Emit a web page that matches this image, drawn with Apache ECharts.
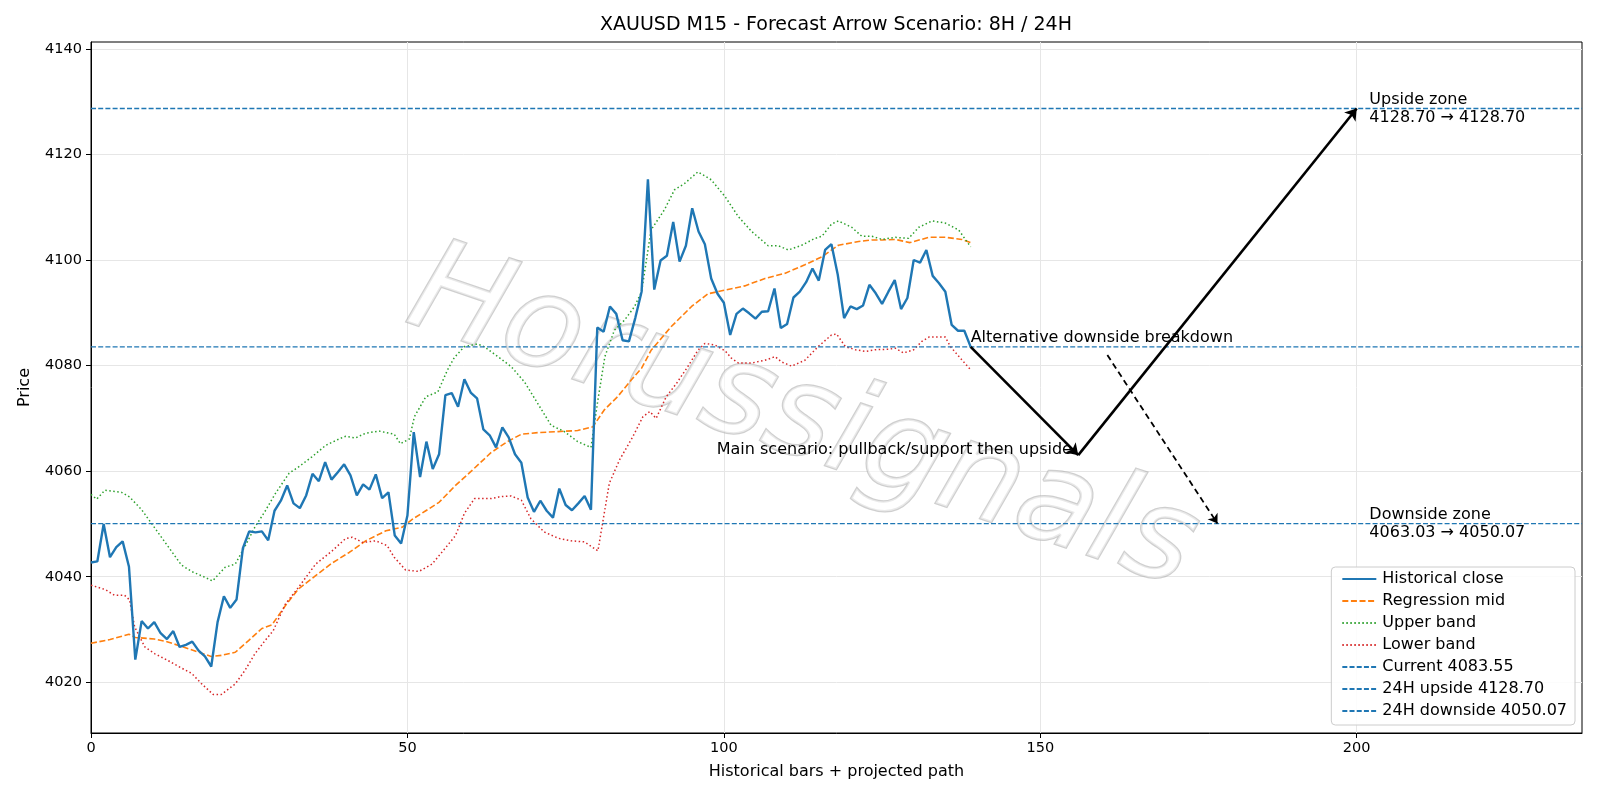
<!DOCTYPE html>
<html>
<head>
<meta charset="utf-8">
<title>XAUUSD M15 forecast</title>
<script src="https://cdn.jsdelivr.net/npm/echarts@6/dist/echarts.min.js"></script>
<style>
  html, body { margin: 0; padding: 0; background: #fff; }
  #chart { width: 1600px; height: 800px; }
</style>
</head>
<body>
<div id="chart"></div>
<script>
// historical M15 closes, one per bar (index = bar number)
const closeValues = [
  4042.7, 4042.9, 4050.0, 4043.7, 4045.6, 4046.7, 4041.9, 4024.3, 4031.6, 4030.2,
  4031.4, 4029.3, 4028.2, 4029.7, 4026.7, 4027.1, 4027.7, 4026.0, 4024.9, 4023.0,
  4031.4, 4036.3, 4034.1, 4035.7, 4045.4, 4048.6, 4048.4, 4048.6, 4046.9, 4052.5,
  4054.4, 4057.3, 4053.9, 4053.0, 4055.4, 4059.5, 4058.1, 4061.7, 4058.4, 4059.8,
  4061.3, 4059.2, 4055.4, 4057.5, 4056.5, 4059.4, 4054.9, 4056.0, 4047.8, 4046.3,
  4051.6, 4067.4, 4058.9, 4065.6, 4060.4, 4063.2, 4074.4, 4074.8, 4072.2, 4077.4,
  4074.9, 4073.8, 4067.9, 4066.8, 4064.5, 4068.3, 4066.4, 4063.2, 4061.6, 4055.0,
  4052.3, 4054.4, 4052.5, 4051.2, 4056.7, 4053.6, 4052.6, 4053.9, 4055.3, 4052.7,
  4087.2, 4086.4, 4091.2, 4089.8, 4084.8, 4084.6, 4089.0, 4094.0, 4115.3, 4094.4,
  4099.9, 4100.8, 4107.2, 4099.7, 4102.7, 4109.8, 4105.4, 4103.0, 4096.5, 4093.6,
  4091.9, 4085.8, 4089.8, 4090.8, 4089.9, 4088.9, 4090.2, 4090.3, 4094.6, 4087.1,
  4087.9, 4092.9, 4094.0, 4095.8, 4098.4, 4096.1, 4101.9, 4103.0, 4097.2, 4089.0,
  4091.2, 4090.7, 4091.4, 4095.3, 4093.7, 4091.7, 4094.0, 4096.2, 4090.7, 4092.8,
  4100.0, 4099.5, 4101.9, 4097.0, 4095.6, 4094.0, 4087.7, 4086.6, 4086.6, 4083.55
];

// regression mid, read at these bar positions
const midX = [0, 3, 6, 7, 10, 12, 14.3, 17, 19, 20.6, 22.8, 24.9, 27, 28.6, 30.7, 32.8, 35.5, 38.1, 40.8, 43.4,
  46.6, 49.2, 50.8, 52.9, 55, 57.6, 60, 63.2, 65.8, 68, 70.6, 73.8, 76.9, 79.3, 81.1, 83.2, 85.4, 87, 88.5, 91.7,
  94.9, 97.5, 100.2, 103.3, 106.5, 109.7, 112.8, 115.5, 118.1, 121.3, 123.4, 125, 127.1, 129.4, 132.4, 135, 137.6, 139];
const midY = [4027.4, 4028.1, 4029.1, 4028.5, 4028.2, 4027.7, 4026.8, 4025.7, 4024.9, 4025.1, 4025.7, 4027.9, 4030.2, 4030.9, 4034.5, 4037.7, 4040.2, 4042.6, 4044.6, 4046.8,
  4048.7, 4049.4, 4050.9, 4052.5, 4054.1, 4057.3, 4059.9, 4063.5, 4065.6, 4067.0, 4067.3, 4067.5, 4067.7, 4068.4, 4071.6, 4074.1, 4077.3, 4079.5, 4082.9, 4087.4,
  4091.2, 4093.6, 4094.3, 4095.1, 4096.5, 4097.5, 4099.1, 4100.6, 4102.8, 4103.5, 4103.8, 4103.8, 4103.9, 4103.3, 4104.3, 4104.3, 4103.9, 4103.3];

// upper band
const upperX = [0, 0.9, 2.2, 4.8, 6.1, 8, 10.1, 12.2, 14.3, 15.9, 18, 19.2, 21.2, 22.8, 24.3, 25.9, 27.5, 29.1, 31.3, 32.8,
  34.9, 37.1, 39.2, 40.2, 41.8, 43.4, 45.5, 47.9, 48.9, 50.3, 51.1, 52.9, 54.8, 56.3, 57.4, 59, 61.1, 62.1, 64.3, 66.4,
  68.5, 70.6, 72.7, 74.8, 76.9, 79, 80.1, 81.2, 82.7, 84.3, 85.9, 87, 88.5, 90.6, 92.2, 93.8, 95.9, 98, 100.2, 102.3,
  104.4, 107, 108.6, 110.2, 112.3, 114.4, 115.5, 117, 118.1, 120.2, 121.8, 123.4, 125, 127.1, 129.2, 130.8, 132.9, 135, 137.1, 139];
const upperY = [4055.6, 4054.7, 4056.4, 4056.0, 4055.1, 4052.7, 4049.2, 4045.7, 4042.2, 4041.0, 4039.9, 4039.2, 4041.8, 4042.4, 4045.7, 4049.4, 4052.4, 4055.7, 4059.6, 4060.8,
  4062.7, 4064.9, 4066.1, 4066.6, 4066.3, 4067.2, 4067.6, 4067.0, 4065.2, 4066.1, 4070.3, 4074.1, 4075.0, 4079.1, 4081.5, 4083.6, 4084.1, 4083.6, 4081.7, 4079.8,
  4076.9, 4072.8, 4068.7, 4067.5, 4065.6, 4064.5, 4073.5, 4081.7, 4086.7, 4088.6, 4091.2, 4094.0, 4105.7, 4109.5, 4113.3, 4114.5, 4116.7, 4115.2, 4112.0, 4108.2,
  4105.4, 4102.7, 4102.7, 4101.9, 4102.8, 4104.1, 4104.5, 4106.8, 4107.4, 4106.2, 4104.5, 4104.5, 4103.9, 4104.3, 4104.1, 4106.2, 4107.4, 4107.0, 4105.7, 4102.5];

// lower band
const lowerX = [0, 2.2, 3.7, 5.3, 6.1, 6.9, 8.5, 10.1, 12.2, 14.3, 15.9, 17.5, 19.3, 20.6, 22.8, 24.3, 25.9, 27.5, 28.8, 30.7,
  32.8, 35.5, 38.1, 40.2, 41.3, 42.9, 45, 46.8, 47.9, 49.7, 51.8, 53.9, 56.1, 57.6, 59, 60.6, 63.2, 64.8, 66.4, 68,
  69.5, 71.6, 73.8, 75.9, 78, 80.1, 81.9, 83.5, 85.6, 87.2, 88.3, 89.3, 90.9, 92.5, 94.3, 95.9, 97, 98.6, 100.2, 101.2,
  102.3, 104.4, 106.5, 108.1, 109.1, 110.7, 112.8, 114.9, 117, 117.8, 119.2, 120.8, 122.4, 123.9, 126, 127.1, 128.4, 130, 131.3, 132.4,
  135, 135.8, 137.6, 139];
const lowerY = [4038.4, 4037.6, 4036.5, 4036.5, 4035.6, 4030.5, 4026.7, 4025.4, 4024.1, 4022.7, 4021.7, 4019.7, 4017.7, 4017.7, 4019.7, 4022.2, 4025.4, 4027.9, 4029.8, 4034.8,
  4038.0, 4042.4, 4044.9, 4047.2, 4047.5, 4046.5, 4046.8, 4045.9, 4043.7, 4041.3, 4041.0, 4042.4, 4045.6, 4047.8, 4052.0, 4054.8, 4054.8, 4055.2, 4055.3, 4054.5,
  4051.0, 4048.5, 4047.3, 4046.8, 4046.6, 4044.9, 4057.7, 4062.1, 4066.5, 4070.3, 4071.3, 4070.0, 4074.1, 4076.6, 4079.8, 4082.9, 4084.2, 4083.9, 4082.8, 4081.4,
  4080.5, 4080.5, 4081.0, 4081.7, 4080.7, 4079.9, 4081.0, 4083.6, 4085.8, 4086.0, 4083.6, 4083.0, 4082.7, 4083.0, 4083.1, 4083.3, 4082.4, 4083.0, 4084.6, 4085.4,
  4085.4, 4083.6, 4081.1, 4079.2];

// levels
const currentLevel = 4083.55;
const pullbackLevel = 4063.03;
const upsideLevel = 4128.70;
const downsideLevel = 4050.07;

// projected path (bar positions)
const lastBar = 139;
const pullbackBar = 156;
const targetBar = 200;
const altStart = [160.6, 4082.0];
const altEndBar = 178;
const zoneTextBar = 202;

const xTicks = [0, 50, 100, 150, 200];
const yTicks = [4020, 4040, 4060, 4080, 4100, 4120, 4140];
const xMin = 0, xMax = 235.6, yMin = 4010.4, yMax = 4141.3;

const font = 'DejaVu Sans';
const pairs = (xs, ys) => xs.map((x, i) => [x, ys[i]]);
const hline = v => [[xMin, v], [xMax, v]];

const chart = echarts.init(document.getElementById('chart'));

const levelStyle = { color: '#1f77b4', width: 1.3, type: [5, 2.2] };

const option = {
  animation: false,
  backgroundColor: '#fff',
  title: {
    text: 'XAUUSD M15 - Forecast Arrow Scenario: 8H / 24H',
    left: 836, top: 16, padding: 0, textAlign: 'center',
    textStyle: { fontFamily: font, fontSize: 19, fontWeight: 'normal', color: '#000' }
  },
  grid: { left: 91, right: 18, top: 42, bottom: 67, show: true, borderColor: '#000', borderWidth: 1, containLabel: false },
  legend: {
    data: ['Historical close', 'Regression mid', 'Upper band', 'Lower band',
      'Current ' + currentLevel.toFixed(2), '24H upside ' + upsideLevel.toFixed(2), '24H downside ' + downsideLevel.toFixed(2)],
    orient: 'vertical', right: 25, bottom: 75,
    itemWidth: 34, itemHeight: 14, itemGap: 6,
    padding: [4, 8, 6, 10],
    itemStyle: { opacity: 0 },
    backgroundColor: 'rgba(255,255,255,0.85)', borderColor: '#cccccc', borderWidth: 1, borderRadius: 4,
    textStyle: { fontFamily: font, fontSize: 16, color: '#000', padding: [0, 0, 0, 1] }
  },
  xAxis: {
    type: 'value', min: xMin, max: xMax,
    name: 'Historical bars + projected path', nameLocation: 'middle', nameGap: 31,
    nameTextStyle: { fontFamily: font, fontSize: 16, color: '#000' },
    axisLine: { show: true, onZero: false, lineStyle: { color: '#000' } },
    axisTick: { show: true, length: 5, customValues: xTicks, lineStyle: { color: '#000' } },
    axisLabel: { customValues: xTicks, margin: 8, fontFamily: font, fontSize: 14.5, color: '#000', formatter: v => String(v) },
    splitLine: { show: true, lineStyle: { color: '#e6e6e6', width: 1 } }
  },
  yAxis: {
    type: 'value', min: yMin, max: yMax,
    name: 'Price', nameLocation: 'middle', nameGap: 58,
    nameTextStyle: { fontFamily: font, fontSize: 16, color: '#000' },
    axisLine: { show: true, onZero: false, lineStyle: { color: '#000' } },
    axisTick: { show: true, length: 5, customValues: yTicks, lineStyle: { color: '#000' } },
    axisLabel: { customValues: yTicks, margin: 9, fontFamily: font, fontSize: 14.5, color: '#000', formatter: v => String(v) },
    splitLine: { show: true, lineStyle: { color: '#e6e6e6', width: 1 } }
  },
  graphic: [{
    type: 'text', x: 802, y: 422, rotation: -0.33, z: 1, silent: true,
    style: {
      text: 'Horussignals',
      font: 'italic 128px "DejaVu Sans"',
      textAlign: 'center', textVerticalAlign: 'middle', align: 'center', verticalAlign: 'middle',
      fill: 'rgba(255,255,255,0.55)', stroke: 'rgba(175,175,175,0.6)', lineWidth: 2.5,
      shadowColor: 'rgba(0,0,0,0.28)', shadowBlur: 3, shadowOffsetX: 4, shadowOffsetY: 4
    }
  }],
  series: [
    {
      name: 'Historical close', type: 'line', symbol: 'none', z: 4,
      data: closeValues.map((v, i) => [i, v]),
      lineStyle: { color: '#1f77b4', width: 2.4 }, itemStyle: { color: '#1f77b4' }
    },
    {
      name: 'Regression mid', type: 'line', symbol: 'none', z: 3,
      data: pairs(midX, midY),
      lineStyle: { color: '#ff7f0e', width: 1.6, type: [6, 2.6] }, itemStyle: { color: '#ff7f0e' }
    },
    {
      name: 'Upper band', type: 'line', symbol: 'none', z: 3,
      data: pairs(upperX, upperY),
      lineStyle: { color: '#2ca02c', width: 1.5, type: [1.5, 2.5] }, itemStyle: { color: '#2ca02c' }
    },
    {
      name: 'Lower band', type: 'line', symbol: 'none', z: 3,
      data: pairs(lowerX, lowerY),
      lineStyle: { color: '#d62728', width: 1.5, type: [1.5, 2.5] }, itemStyle: { color: '#d62728' }
    },
    {
      name: 'Current ' + currentLevel.toFixed(2), type: 'line', symbol: 'none', z: 3,
      data: hline(currentLevel), lineStyle: levelStyle, itemStyle: { color: '#1f77b4' }
    },
    {
      name: '24H upside ' + upsideLevel.toFixed(2), type: 'line', symbol: 'none', z: 3,
      data: hline(upsideLevel), lineStyle: levelStyle, itemStyle: { color: '#1f77b4' }
    },
    {
      name: '24H downside ' + downsideLevel.toFixed(2), type: 'line', symbol: 'none', z: 3,
      data: hline(downsideLevel), lineStyle: levelStyle, itemStyle: { color: '#1f77b4' }
    },
    // main scenario arrows
    {
      type: 'lines', coordinateSystem: 'cartesian2d', z: 6,
      symbol: ['none', 'arrow'], symbolSize: 11,
      lineStyle: { color: '#000', width: 2.6, opacity: 1, curveness: 0 },
      data: [
        { coords: [[lastBar, currentLevel], [pullbackBar, pullbackLevel]] },
        { coords: [[pullbackBar, pullbackLevel], [targetBar, upsideLevel]] }
      ]
    },
    // alternative breakdown arrow
    {
      type: 'lines', coordinateSystem: 'cartesian2d', z: 6,
      symbol: ['none', 'arrow'], symbolSize: 9,
      lineStyle: { color: '#000', width: 1.8, opacity: 1, curveness: 0, type: [6, 4] },
      data: [{ coords: [altStart, [altEndBar, downsideLevel]] }]
    },
    // annotation texts
    {
      type: 'scatter', symbolSize: 0, z: 7, silent: true,
      itemStyle: { opacity: 1 },
      label: { show: true, opacity: 1, position: [0, 0], fontFamily: font, fontSize: 16, color: '#000', lineHeight: 18, formatter: p => p.name },
      data: [
        { name: 'Alternative downside breakdown', value: [lastBar, currentLevel], label: { align: 'left', verticalAlign: 'bottom' } },
        { name: 'Main scenario: pullback/support then upside', value: [155, pullbackLevel], label: { align: 'right', verticalAlign: 'middle', offset: [0, -5] } },
        { name: 'Upside zone\n' + upsideLevel.toFixed(2) + ' \u2192 ' + upsideLevel.toFixed(2), value: [zoneTextBar, upsideLevel], label: { align: 'left', verticalAlign: 'middle' } },
        { name: 'Downside zone\n' + pullbackLevel.toFixed(2) + ' \u2192 ' + downsideLevel.toFixed(2), value: [zoneTextBar, downsideLevel], label: { align: 'left', verticalAlign: 'middle' } }
      ]
    }
  ]
};

chart.setOption(option);
</script>
</body>
</html>
